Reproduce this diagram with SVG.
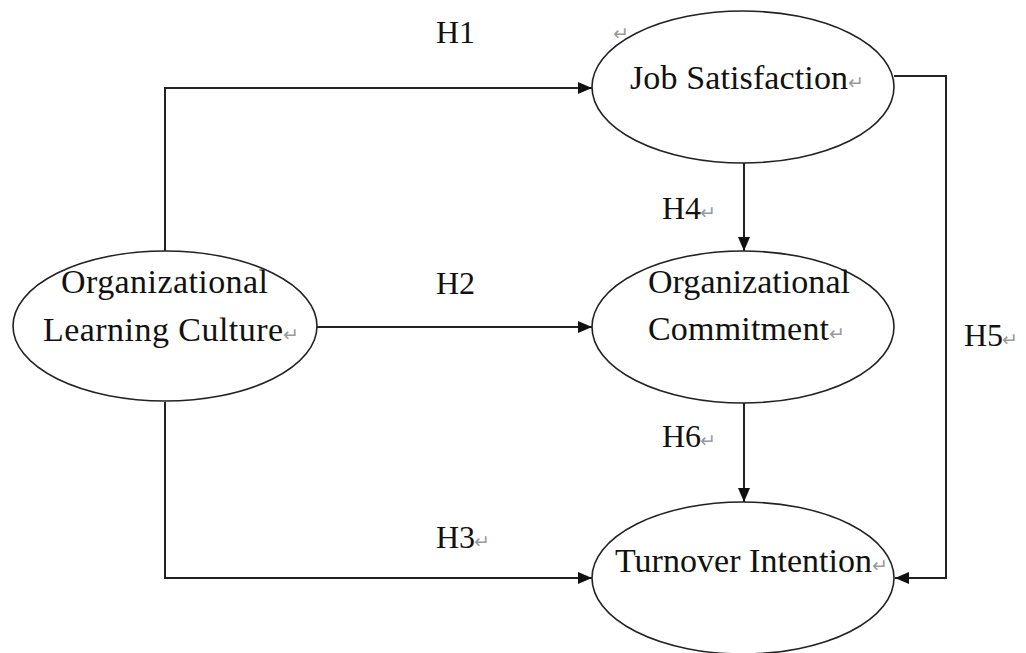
<svg xmlns="http://www.w3.org/2000/svg" width="1026" height="653" viewBox="0 0 1026 653">
<style>
.node ellipse{fill:#fff;stroke:#222;stroke-width:1.6}
.t{font-family:"Liberation Serif","Times New Roman",serif;font-size:34px;fill:#111}
.h{font-family:"Liberation Serif","Times New Roman",serif;font-size:32px;fill:#111}
.r{font-family:"DejaVu Sans",sans-serif;font-size:19px;fill:#999}
.conn path{fill:none;stroke:#222;stroke-width:2}
</style>
<defs>
<marker id="ah" viewBox="0 0 14 12" refX="14" refY="6" markerWidth="14" markerHeight="12" markerUnits="userSpaceOnUse" orient="auto">
<path d="M0,0 L14,6 L0,12 Z" fill="#111"/>
</marker>
</defs>
<rect width="1026" height="653" fill="#fff"/>
<g id="connectors" class="conn">
<path d="M165,251 V88 H592" marker-end="url(#ah)"/>
<path d="M316,327 H592" marker-end="url(#ah)"/>
<path d="M165,402 V578 H592" marker-end="url(#ah)"/>
<path d="M744,163 V251" marker-end="url(#ah)"/>
<path d="M744,403 V502" marker-end="url(#ah)"/>
<path d="M894,76 H946 V578 H895" marker-end="url(#ah)"/>
</g>
<g id="labels">
<text class="h" x="436" y="43">H1</text>
<text class="h" x="436" y="294">H2</text>
<text class="h" x="436" y="548">H3</text><text class="r" x="474" y="548">↵</text>
<text class="h" x="662" y="219">H4</text><text class="r" x="700" y="219">↵</text>
<text class="h" x="964" y="346">H5</text><text class="r" x="1002" y="346">↵</text>
<text class="h" x="662" y="447">H6</text><text class="r" x="700" y="447">↵</text>
</g>
<g id="job-satisfaction" class="node">
<ellipse cx="743" cy="87" rx="151" ry="76"/>
<text class="r" x="613" y="40">↵</text>
<text class="t" x="630" y="89" textLength="218" lengthAdjust="spacing">Job Satisfaction</text><text class="r" x="848" y="89">↵</text>
</g>
<g id="organizational-commitment" class="node">
<ellipse cx="743" cy="327" rx="151" ry="76"/>
<text class="t" x="648" y="293" textLength="202" lengthAdjust="spacing">Organizational</text>
<text class="t" x="648" y="340" textLength="181" lengthAdjust="spacing">Commitment</text><text class="r" x="829" y="340">↵</text>
</g>
<g id="turnover-intention" class="node">
<ellipse cx="743" cy="578" rx="151" ry="76"/>
<text class="t" x="615" y="572" textLength="257" lengthAdjust="spacing">Turnover Intention</text><text class="r" x="872" y="572">↵</text>
</g>
<g id="organizational-learning-culture" class="node">
<ellipse cx="165" cy="326" rx="152" ry="75"/>
<text class="t" x="61" y="293" textLength="207" lengthAdjust="spacing">Organizational</text>
<text class="t" x="43" y="341" textLength="240" lengthAdjust="spacing">Learning Culture</text><text class="r" x="283" y="341">↵</text>
</g>
</svg>
